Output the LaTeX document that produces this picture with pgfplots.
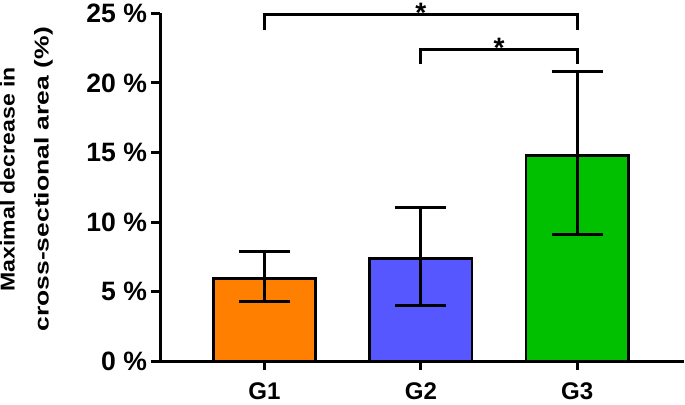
\documentclass[border=0pt]{standalone}
\usepackage{fontspec}
\setmainfont{Liberation Sans}
\newfontfamily\lblA[FakeStretch=1.15]{Liberation Sans}
\newfontfamily\lblB[FakeStretch=1.32]{Liberation Sans}
\usepackage{pgfplots}
\pgfplotsset{compat=1.18}
\definecolor{cG1}{RGB}{255,128,0}
\definecolor{cG2}{RGB}{87,87,255}
\definecolor{cG3}{RGB}{0,192,0}
\begin{document}
\begin{tikzpicture}
\begin{axis}[
  scale only axis, width=522pt, height=347pt,
  xmin=0.333, xmax=3.68, ymin=0, ymax=25,
  axis x line*=bottom, axis y line*=left,
  axis line style={line width=3pt, -},
  clip=false,
  ybar, bar width=0.654, bar shift=0pt,
  xtick={1,2,3}, xticklabels={G1,G2,G3},
  ytick={0,5,...,25}, yticklabels={0 \%,5 \%,10 \%,15 \%,20 \%,25 \%},
  tick align=outside, major tick length=9pt,
  tick style={line width=3pt, black},
  yticklabel style={font=\fontsize{26.5}{30}\selectfont\bfseries, inner sep=0pt, xshift=-4pt},
  xticklabel style={font=\fontsize{24}{28}\selectfont\bfseries, inner xsep=0pt, inner ysep=5pt, yshift=-7pt},
  ylabel={{\lblA\bfseries Maximal decrease in}\\{\lblB\bfseries cross-sectional area (\%)}},
  ylabel style={align=center, font=\fontsize{20}{34}\selectfont, inner sep=0pt,
    at={(axis description cs:-0.205,0.523)}, anchor=south},
  error bars/y dir=both, error bars/y explicit,
  error bars/error bar style={line width=3pt, black},
  error bars/error mark options={rotate=90, mark size=25.5pt, line width=3pt, black},
]
\addplot[fill=cG1, draw=black, line width=2.5pt] coordinates {(1,5.96) += (0,1.91) -= (0,1.69)};
\addplot[fill=cG2, draw=black, line width=2.5pt] coordinates {(2,7.40) += (0,3.62) -= (0,3.37)};
\addplot[fill=cG3, draw=black, line width=2.5pt] coordinates {(3,14.77) += (0,6.03) -= (0,5.69)};
\draw[line width=3pt] (axis cs:1,23.8) -- (axis cs:1,24.9) -- (axis cs:3,24.9) -- (axis cs:3,23.8);
\draw[line width=3pt] (axis cs:2,21.33) -- (axis cs:2,22.38) -- (axis cs:3,22.38) -- (axis cs:3,21.33);
\node[font=\fontsize{28}{28}\selectfont\bfseries, anchor=base, inner xsep=0pt, inner ysep=3pt, yshift=-7.5pt] at (axis cs:2,24.9) {*};
\node[font=\fontsize{28}{28}\selectfont\bfseries, anchor=base, inner xsep=0pt, inner ysep=3pt, yshift=-7.5pt] at (axis cs:2.5,22.38) {*};
\end{axis}
\end{tikzpicture}
\end{document}
